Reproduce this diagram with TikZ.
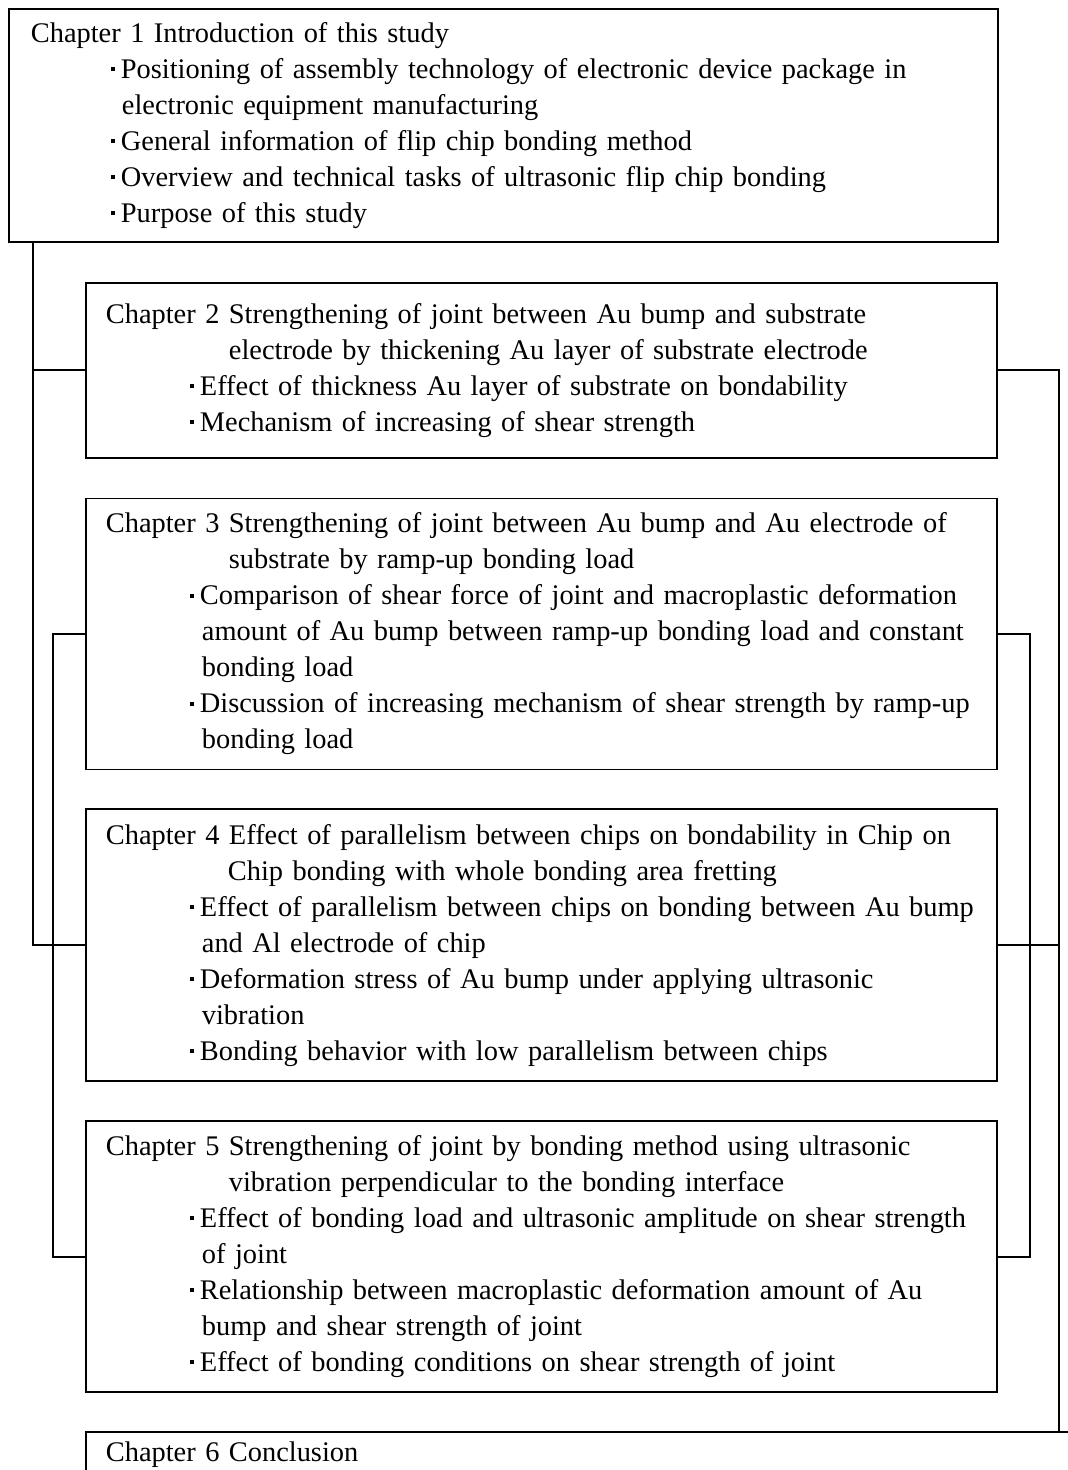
\documentclass[tikz,border=0pt]{standalone}
\usepackage{fontspec}
\setmainfont{Liberation Serif}
\usepackage{tikz}
\usetikzlibrary{positioning}

\newcommand{\dotmark}{\makebox[5pt][l]{\raisebox{0.25em}{\rule{2pt}{2pt}}}}
\newcommand{\itm}[2][42pt]{\hspace*{#1}\mbox{\dotmark#2}}
\newcommand{\cnt}[2][48pt]{\hspace*{#1}\mbox{#2}}

\begin{document}
\begin{tikzpicture}[x=0.5pt,y=-0.5pt,line width=0.9pt,
        node distance=19pt,
        chap/.style={draw,rectangle,align=left,inner ysep=2pt,inner xsep=10pt,
            text width=435.5pt,font=\fontsize{14.2pt}{18pt}\selectfont}]
        \useasboundingbox (0,0) rectangle (1067,1470);
        \node[chap,anchor=north west,inner xsep=11pt,text width=472.5pt,minimum height=116.5pt] (B1) at (8,8)
            {Chapter 1 Introduction of this study\\
            \itm[40pt]{Positioning of assembly technology of electronic device package in}\\
            \cnt[45.5pt]{electronic equipment manufacturing}\\
            \itm[40pt]{General information of flip chip bonding method}\\
            \itm[40pt]{Overview and technical tasks of ultrasonic flip chip bonding}\\
            \itm[40pt]{Purpose of this study}};
        \node[chap,minimum height=87.5pt,below right=19.5pt and 38.5pt of B1.south west] (B2)
            {Chapter 2 Strengthening of joint between Au bump and substrate\\
            \cnt[61.5pt]{electrode by thickening Au layer of substrate electrode}\\
            \itm{Effect of thickness Au layer of substrate on bondability}\\
            \itm{Mechanism of increasing of shear strength}};
        \node[chap,minimum height=135.5pt,below=19.5pt of B2] (B3)
            {Chapter 3 Strengthening of joint between Au bump and Au electrode of\\
            \cnt[61.5pt]{substrate by ramp-up bonding load}\\
            \itm{Comparison of shear force of joint and macroplastic deformation}\\
            \cnt{amount of Au bump between ramp-up bonding load and constant}\\
            \cnt{bonding load}\\
            \itm{Discussion of increasing mechanism of shear strength by ramp-up}\\
            \cnt{bonding load}};
        \node[chap,minimum height=136pt,below=of B3] (B4)
            {Chapter 4 Effect of parallelism between chips on bondability in Chip on\\
            \cnt[61pt]{Chip bonding with whole bonding area fretting}\\
            \itm{Effect of parallelism between chips on bonding between Au bump}\\
            \cnt{and Al electrode of chip}\\
            \itm{Deformation stress of Au bump under applying ultrasonic}\\
            \cnt{vibration}\\
            \itm{Bonding behavior with low parallelism between chips}};
        \node[chap,minimum height=135.5pt,below=of B4] (B5)
            {Chapter 5 Strengthening of joint by bonding method using ultrasonic\\
            \cnt[61.5pt]{vibration perpendicular to the bonding interface}\\
            \itm{Effect of bonding load and ultrasonic amplitude on shear strength}\\
            \cnt{of joint}\\
            \itm{Relationship between macroplastic deformation amount of Au}\\
            \cnt{bump and shear strength of joint}\\
            \itm{Effect of bonding conditions on shear strength of joint}};
        \node[chap,anchor=north west,inner ysep=5pt,text width=480pt,text depth=40pt,
            below right=19pt and 0pt of B5.south west] (B6) {Chapter 6 Conclusion};
        % left side
        \coordinate (tl) at ([xshift=12.5pt]B1.south west);
        \coordinate (il) at ([xshift=-16pt]B3.west);
        \draw (tl) |- (B2.west);
        \draw (tl) |- (B4.west);
        \draw (B3.west) -- (il) |- (B5.west);
        % right side
        \coordinate (or) at ([xshift=30.5pt]B2.east);
        \coordinate (ir) at ([xshift=16pt]B3.east);
        \draw (B2.east) -- (or) -- (or |- B6.north);
        \draw (B4.east) -- (B4.east -| or);
        \draw (B3.east) -- (ir) |- (B5.east);
\end{tikzpicture}
\end{document}
